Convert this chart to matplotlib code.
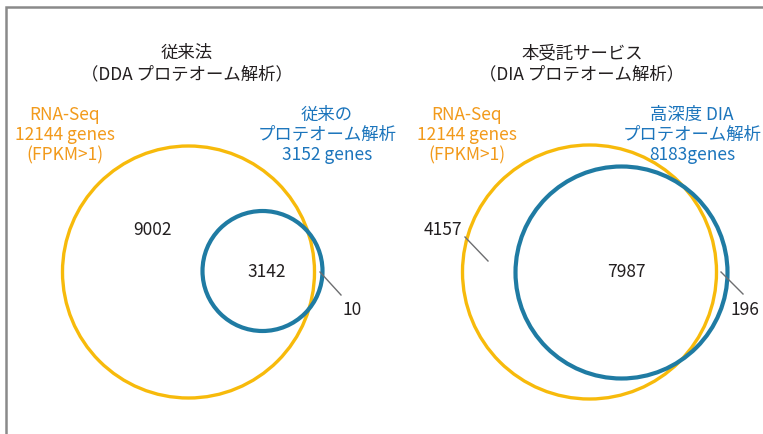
import matplotlib
matplotlib.use("Agg")
from matplotlib import pyplot as plt
from matplotlib.patches import Circle

plt.rcParams['font.family'] = ['Noto Sans CJK JP', 'DejaVu Sans']

# data
titles = ['従来法\n（DDA プロテオーム解析）', '本受託サービス\n（DIA プロテオーム解析）']
rna_labels = ['RNA-Seq\n12144 genes\n(FPKM>1)', 'RNA-Seq\n12144 genes\n(FPKM>1)']
prot_labels = ['従来の\nプロテオーム解析\n3152 genes', '高深度 DIA\nプロテオーム解析\n8183genes']
rna_only = [9002, 4157]
both = [3142, 7987]
prot_only = [10, 196]

# layout (pixel coords)
yellow = '#F7BA0B'
blue = '#1F7BA3'
orange_txt = '#F29A1B'
blue_txt = '#1C75BC'
dark = '#231F20'

title_x = [187, 582]
rna_xy = [(65, 135), (467, 135)]
prot_xy = [(327, 135), (692, 135)]
big = [((188.5, 273), 126), ((589.5, 273), 127)]
small = [((262.5, 272), 60), ((621.5, 273.5), 106)]
only_xy = [(152, 230), (443, 230)]
both_xy = [(267, 272), (626, 272)]
p_xy = [(352, 310), (745, 310)]
p_line = [((320, 273), (341, 296)), ((721, 273), (743, 295))]
r_line = [None, ((465, 238), (488, 262))]

fig = plt.figure(figsize=(7.63, 4.35), dpi=100)
ax = fig.add_axes([0, 0, 1, 1])
ax.set_xlim(0, 763)
ax.set_ylim(435, 0)
ax.set_aspect('equal')
ax.axis('off')

# frame cut by the crop
ax.plot([6, 6, 763], [435, 8, 8], color='#8a8a8a', lw=1.8, solid_joinstyle='miter')

for i in range(2):
    ax.text(title_x[i], 64, titles[i], ha='center', va='center', fontsize=12.5,
            color=dark, linespacing=1.25)
    ax.text(*rna_xy[i], rna_labels[i], ha='center', va='center', fontsize=12.5,
            color=orange_txt, linespacing=1.15)
    ax.text(*prot_xy[i], prot_labels[i], ha='center', va='center', fontsize=12.5,
            color=blue_txt, linespacing=1.15)
    ax.add_patch(Circle(big[i][0], big[i][1], fill=False, ec=yellow, lw=2.4))
    ax.add_patch(Circle(small[i][0], small[i][1], fill=False, ec=blue, lw=3.0))
    ax.text(*only_xy[i], str(rna_only[i]), ha='center', va='center', fontsize=12.5, color=dark)
    ax.text(*both_xy[i], str(both[i]), ha='center', va='center', fontsize=12.5, color=dark)
    ax.text(*p_xy[i], str(prot_only[i]), ha='center', va='center', fontsize=12.5, color=dark)
    (x0, y0), (x1, y1) = p_line[i]
    ax.plot([x0, x1], [y0, y1], color='#6d6e70', lw=1)
    if r_line[i]:
        (x0, y0), (x1, y1) = r_line[i]
        ax.plot([x0, x1], [y0, y1], color='#6d6e70', lw=1)

fig.savefig('out.png', dpi=100)
